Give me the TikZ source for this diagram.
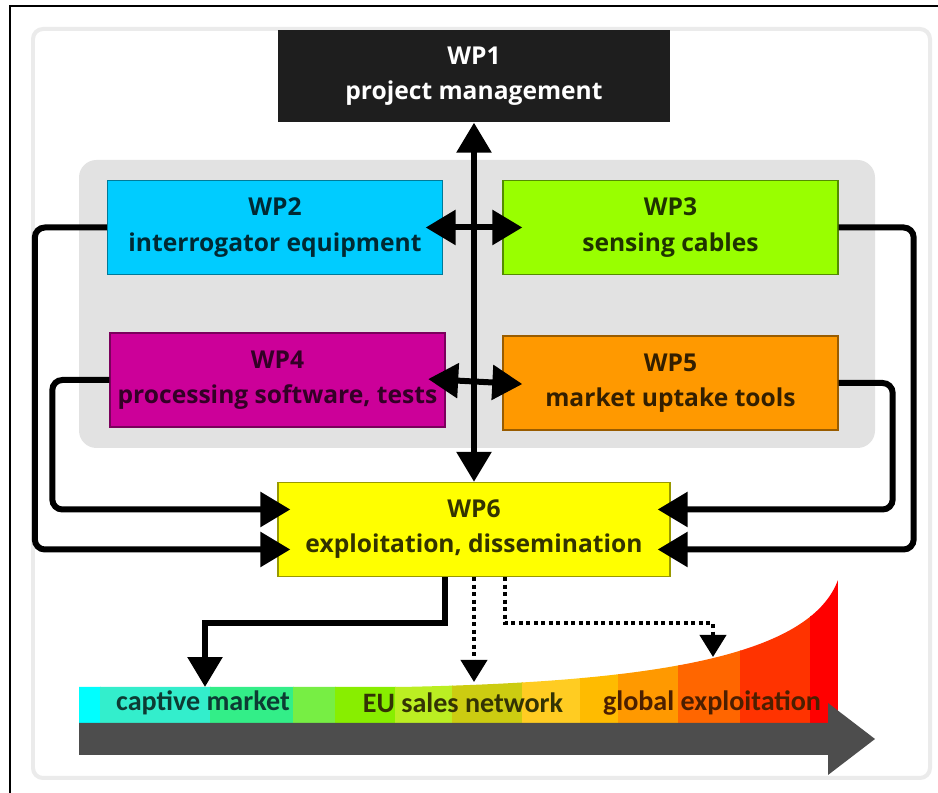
\documentclass[tikz,border=0pt]{standalone}
\usepackage{fontspec}
\setmainfont{Open Sans}
\newfontfamily\barfont{Carlito}
\usepackage{xcolor}
\usetikzlibrary{arrows.meta}
\usetikzlibrary{calc}
\tikzset{
  font={\fontsize{14pt}{20pt}\selectfont\bfseries}}

\definecolor{panel}{HTML}{E2E2E2}
\definecolor{cardline}{HTML}{EBEBEB}
\definecolor{barGrey}{HTML}{4D4D4D}
\definecolor{wpOne}{HTML}{1E1E1E}
\definecolor{wpTwo}{HTML}{00CCFF}
\definecolor{wpThree}{HTML}{99FF00}
\definecolor{wpFour}{HTML}{CC0099}
\definecolor{wpFive}{HTML}{FF9900}
\definecolor{wpSix}{HTML}{FFFF00}
\definecolor{bandA}{HTML}{00FFFF}
\definecolor{bandB}{HTML}{33EECC}
\definecolor{bandC}{HTML}{33EE88}
\definecolor{bandD}{HTML}{77EE44}
\definecolor{bandE}{HTML}{88EE00}
\definecolor{bandF}{HTML}{BBEE22}
\definecolor{bandG}{HTML}{CCCC11}
\definecolor{bandH}{HTML}{FFCC22}
\definecolor{bandI}{HTML}{FFBB00}
\definecolor{bandJ}{HTML}{FF9900}
\definecolor{bandK}{HTML}{FF6600}
\definecolor{bandL}{HTML}{FF3300}
\definecolor{bandM}{HTML}{FF0000}

\begin{document}
\begin{tikzpicture}[x=0.02cm, y=-0.02cm]

    \tikzset{edge/.style = {-{Triangle[length=0.6cm,width=0.68cm]}, line width=0.12cm},
             both/.style = {{Triangle[length=0.6cm,width=0.68cm]}-{Triangle[length=0.6cm,width=0.68cm]}, line width=0.12cm},
             dotedge/.style = {-{Triangle[length=0.44cm,width=0.52cm]}, line width=0.08cm, dash pattern=on 0.08cm off 0.07cm},
             wp/.style = {rectangle, inner sep=0pt, minimum width=6.7cm, minimum height=1.88cm, align=center, line width=0.8pt},
             barlabel/.style = {font={\barfont\fontsize{16pt}{18pt}\selectfont\bfseries}, inner sep=1pt}}

    \useasboundingbox (0,0) rectangle (938,793);

    % background
    \fill[white] (0,0) rectangle (938,793);
    \draw[line width=0.05cm] (10,793) -- (10,6) -- (938,6);
    \draw[rounded corners=0.2cm, fill=white, draw=cardline, line width=0.08cm] (33,29) rectangle (930,778);
    \fill[panel, rounded corners=0.35cm] (79,160) rectangle (875,448);

    % vertices
    \node[wp, fill=wpOne, minimum width=7.84cm, minimum height=1.84cm, text=white] (wp1)
        at (474,76) {WP1\\project management};
    \node[wp, fill=wpTwo, draw=wpTwo!60!black, text=wpTwo!20!black] (wp2)
        at (275,227.5) {WP2\\interrogator equipment};
    \node[wp, fill=wpThree, draw=wpThree!55!black, text=wpThree!20!black] (wp3)
        at (670.5,227.5) {WP3\\sensing cables};
    \node[wp, fill=wpFour, draw=wpFour!60!black, text=wpFour!25!black] (wp4)
        at (277.5,380) {WP4\\processing software, tests};
    \node[wp, fill=wpFive, draw=wpFive!60!black, text=wpFive!20!black] (wp5)
        at (670.5,383) {WP5\\market uptake tools};
    \node[wp, fill=wpSix, draw=wpSix!60!black, text=wpSix!20!black, minimum width=7.84cm] (wp6)
        at (474,529.5) {WP6\\exploitation, dissemination};

    % market bar
    \begin{scope}
        \clip (79,723) -- (79,687) -- (400,687) .. controls (660,682) and (810,655) .. (838,580) -- (838,723) -- cycle;
        \foreach \xa/\xb/\col in {79/100/bandA, 100/210/bandB, 210/293/bandC, 293/335/bandD,
                                  335/395/bandE, 395/452/bandF, 452/522/bandG, 522/580/bandH,
                                  580/618/bandI, 618/678/bandJ, 678/740/bandK, 740/810/bandL, 810/838/bandM}
            \fill[\col] (\xa,570) rectangle (\xb+1,723);
    \end{scope}
    \fill[barGrey] (79,723) -- (828,723) -- (828,703) -- (875,739) -- (828,775) -- (828,755) -- (79,755) -- cycle;

    \node[barlabel, text=bandB!25!black] (captive) at (203,703) {captive market};
    \node[barlabel, text=bandG!25!black] (eusales) at (463,703) {EU sales network};
    \node[barlabel, text=bandK!30!black] (global) at (712,703) {global exploitation};
    \coordinate (captivetip) at (205,687);
    \coordinate (eutip) at (474,682);
    \coordinate (globaltip) at (713,657);

    %edges
    \draw[both] (wp1.south) to (wp6.north);
    \draw[both, shorten <=-0.35cm, shorten >=-0.4cm] (wp2.east) to (wp3.west);
    \draw[both, shorten <=-0.35cm, shorten >=-0.4cm] (wp4.east) to (wp5.west);

    \draw[edge, rounded corners=0.2cm, shorten >=-0.26cm] (wp2.west) -- ++(-72,0) |- ($(wp6.west)+(0,20)$);
    \draw[edge, rounded corners=0.2cm, shorten >=-0.26cm] (wp4.west) -- ++(-57,0) |- ($(wp6.west)+(0,-20)$);
    \draw[edge, rounded corners=0.2cm, shorten >=-0.26cm] (wp3.east) -- ++(75,0) |- ($(wp6.east)+(0,20)$);
    \draw[edge, rounded corners=0.2cm, shorten >=-0.26cm] (wp5.east) -- ++(54,0) |- ($(wp6.east)+(0,-20)$);

    \draw[edge] ($(wp6.south)+(-29,0)$) -- ++(0,46) -| (captivetip);
    \draw[dotedge] (wp6.south) -- (eutip);
    \draw[dotedge] ($(wp6.south)+(31,0)$) -- ++(0,46) -| (globaltip);

\end{tikzpicture}
\end{document}
